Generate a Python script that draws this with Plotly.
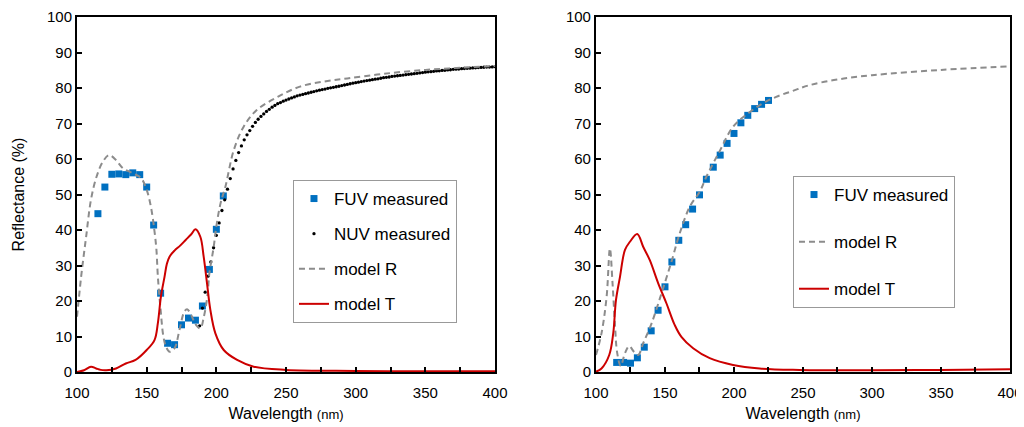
"""Reflectance / transmittance spectra: two panels with measured points and models."""

import plotly.graph_objects as go

# ---- left panel -------------------------------------------------------------
fuv_left_x = [115, 120, 125, 130, 135, 140, 145, 150, 155, 160, 165, 170,
              175, 180, 185, 190, 195, 200, 205]
fuv_left_y = [44.6, 52.1, 55.7, 55.8, 55.6, 56.1, 55.6, 52.1, 41.4, 22.2, 8.1, 7.7,
              13.3, 15.2, 14.6, 18.6, 28.9, 40.2, 49.6]

nuv_x = list(range(188, 401, 2))
nuv_y = [13.0, 18.0, 22.5, 27.0, 31.0, 35.0, 38.5, 42.0, 45.5, 48.5,
         51.5, 54.5, 57.2, 59.6, 61.8, 63.7, 65.4, 66.8, 68.0, 69.2,
         70.3, 71.2, 72.0, 72.7, 73.4, 74.0, 74.6, 75.1, 75.6, 75.9,
         76.3, 76.6, 76.9, 77.2, 77.5, 77.8, 78.0, 78.2, 78.4, 78.6,
         78.8, 79.0, 79.2, 79.4, 79.55, 79.7, 79.9, 80.05, 80.2, 80.35,
         80.5, 80.7, 80.85, 81.0, 81.2, 81.35, 81.5, 81.65, 81.8, 81.95,
         82.1, 82.2, 82.35, 82.5, 82.6, 82.75, 82.9, 83.0, 83.1, 83.25,
         83.35, 83.45, 83.55, 83.65, 83.75, 83.85, 83.95, 84.05, 84.15, 84.25,
         84.35, 84.45, 84.55, 84.6, 84.7, 84.8, 84.85, 84.95, 85.0, 85.1,
         85.15, 85.25, 85.3, 85.35, 85.45, 85.5, 85.55, 85.6, 85.65, 85.7,
         85.75, 85.8, 85.85, 85.9, 85.9, 85.95, 86.0]

model_r_left_x = [100, 103, 106.5, 110, 114, 118.5, 123, 128, 133, 140, 146, 150,
                  153, 155.5, 157, 158, 160, 162, 164, 166.5, 170, 173.5, 177,
                  179, 182, 185, 188.5, 191, 193.5, 195, 198, 200, 203, 206.5,
                  212.5, 219.6, 229, 244, 260, 277, 294, 320, 350, 375, 400]
model_r_left_y = [15.6, 27, 38, 48.5, 55, 59.2, 61.1, 59.7, 57.4, 56, 54.6, 51.3,
                  46.6, 40, 34.4, 27, 17.5, 10, 7, 5.7, 6.7, 11.8, 17,
                  17.7, 16, 13.5, 12.3, 15.5, 21.2, 27.8, 35, 41, 47.5, 52.2,
                  62.5, 69.1, 73.8, 77.5, 80.4, 81.8, 82.7, 84, 85.1, 85.7, 86.2]

model_t_left_x = [100, 105, 110, 113.7, 117, 121, 128, 135, 142, 150, 155.6, 158,
                  160.2, 162.8, 164.5, 166.4, 170, 174, 178, 182, 185, 188.5,
                  190.9, 193.3, 195.7, 199.3, 205.3, 214.9, 226.8, 250, 300, 350, 400]
model_t_left_y = [0, 0.5, 1.5, 1.0, 0.6, 0.5, 1.0, 2.4, 3.4, 6.2, 9, 13.7,
                  21.2, 26.8, 30.5, 32.5, 34.2, 35.6, 37.2, 38.8, 40.2, 38.1,
                  32.5, 25, 17.5, 10.9, 6.2, 3.4, 1.5, 0.6, 0.3, 0.2, 0.2]

# ---- right panel ------------------------------------------------------------
fuv_right_x = list(range(115, 226, 5))
fuv_right_y = [2.7, 2.7, 2.5, 4.0, 7.0, 11.6, 17.4, 24.0, 31.0, 37.1, 41.5, 45.9,
               49.9, 54.3, 57.7, 61.1, 64.4, 67.2, 70.2, 72.3, 74.2, 75.4, 76.5]

model_r_right_x = [100, 104, 107.7, 110.1, 112, 113.7, 115.4, 117.9, 121, 124.1,
                   127.5, 130.6, 134.2, 140.3, 147.5, 154.7, 160.7, 168, 175.2,
                   180, 190, 199.3, 210, 220, 230.6, 242.7, 254.7, 275, 300, 350, 400]
model_r_right_y = [4.8, 10.9, 21.2, 34.8, 25, 13.7, 5.3, 1.7, 5.3, 7.3,
                   5.7, 4.8, 8.1, 13.7, 22.2, 31.1, 39.1, 46.6, 50.8,
                   55, 62.5, 69.1, 72.8, 75.5, 77.5, 79.2, 80.8, 82.4, 83.6, 85.1, 86.1]

model_t_right_x = [100, 104, 109.6, 112.5, 114.5, 117.4, 121, 124.6, 129.9, 134.2,
                   139, 145.1, 151.1, 157.1, 161.9, 170.4, 182.4, 199.3, 218.6,
                   247.5, 300, 350, 400]
model_t_right_y = [0.1, 1, 4.8, 10.9, 20.3, 26.8, 34.4, 36.7, 38.9, 35.3,
                   31.5, 25, 19.3, 13.2, 9.9, 6.7, 3.9, 2, 1,
                   0.6, 0.5, 0.6, 0.8]

BLUE = "#0070C0"
RED = "#CC0000"
GRAY = "#8C8C8C"
FONT = "Liberation Sans, Arial, sans-serif"

fig = go.Figure()

# left panel traces
fig.add_trace(go.Scatter(x=fuv_left_x, y=fuv_left_y, mode="markers", name="FUV measured",
                         marker=dict(symbol="square", size=7, color=BLUE),
                         xaxis="x", yaxis="y", legend="legend", legendgroup="a1"))
fig.add_trace(go.Scatter(x=nuv_x, y=nuv_y, mode="markers", name="NUV measured",
                         marker=dict(size=3.3, color="black"),
                         xaxis="x", yaxis="y", legend="legend", legendgroup="a2"))
fig.add_trace(go.Scatter(x=model_r_left_x, y=model_r_left_y, mode="lines", name="model R",
                         line=dict(color=GRAY, width=2, dash="6px,4px", shape="spline"),
                         xaxis="x", yaxis="y", legend="legend", legendgroup="a3"))
fig.add_trace(go.Scatter(x=model_t_left_x, y=model_t_left_y, mode="lines", name="model T",
                         line=dict(color=RED, width=2, shape="spline"),
                         xaxis="x", yaxis="y", legend="legend", legendgroup="a4"))

# right panel traces
fig.add_trace(go.Scatter(x=fuv_right_x, y=fuv_right_y, mode="markers", name="FUV measured",
                         marker=dict(symbol="square", size=7, color=BLUE),
                         xaxis="x2", yaxis="y2", legend="legend2", legendgroup="b1"))
fig.add_trace(go.Scatter(x=model_r_right_x, y=model_r_right_y, mode="lines", name="model R",
                         line=dict(color=GRAY, width=2, dash="6px,4px", shape="spline"),
                         xaxis="x2", yaxis="y2", legend="legend2", legendgroup="b2"))
fig.add_trace(go.Scatter(x=model_t_right_x, y=model_t_right_y, mode="lines", name="model T",
                         line=dict(color=RED, width=2, shape="spline"),
                         xaxis="x2", yaxis="y2", legend="legend2", legendgroup="b3"))

axis_common = dict(
    showline=True, linecolor="black", linewidth=2, mirror=True,
    ticks="inside", ticklen=5, tickwidth=1.5, tickcolor="black",
    showgrid=False, zeroline=False, automargin=False,
    tickfont=dict(family=FONT, size=15, color="black"),
)
xtitle = dict(text="Wavelength <span style='font-size:13px'>(nm)</span>",
              font=dict(family=FONT, size=16, color="black"), standoff=8)
xminor = dict(dtick=25, ticks="inside", ticklen=5, tickcolor="black")

# the page puts the figure 8px in from the top-left corner, domains allow for that
fig.update_layout(
    width=1024, height=427,
    margin=dict(l=0, r=0, t=0, b=0, autoexpand=False),
    paper_bgcolor="white", plot_bgcolor="white",
    showlegend=True,
    xaxis=dict(domain=[0.0674, 0.4756], range=[100, 400], dtick=50, minor=xminor,
               ticklabelstandoff=6, title=xtitle, anchor="y", **axis_common),
    yaxis=dict(domain=[0.1475, 0.9789], range=[0, 100], dtick=10, anchor="x",
               title=dict(text="Reflectance (%)", font=dict(family=FONT, size=16, color="black"),
                          standoff=18),
               **axis_common),
    xaxis2=dict(domain=[0.5742, 0.9785], range=[100, 400], dtick=50, minor=xminor,
                ticklabelstandoff=6, title=xtitle, anchor="y2", **axis_common),
    yaxis2=dict(domain=[0.1475, 0.9789], range=[0, 100], dtick=10, anchor="x2",
                **axis_common),
    legend=dict(x=0.2783, y=0.5972, xanchor="left", yanchor="top",
                bgcolor="white", bordercolor="#999999", borderwidth=1,
                font=dict(family=FONT, size=17, color="black"),
                tracegroupgap=10, itemwidth=30, entrywidth=135),
    legend2=dict(x=0.7666, y=0.6066, xanchor="left", yanchor="top",
                 bgcolor="white", bordercolor="#999999", borderwidth=1,
                 font=dict(family=FONT, size=17, color="black"),
                 tracegroupgap=22, itemwidth=30, entrywidth=135),
)

fig.write_html("out.html")
